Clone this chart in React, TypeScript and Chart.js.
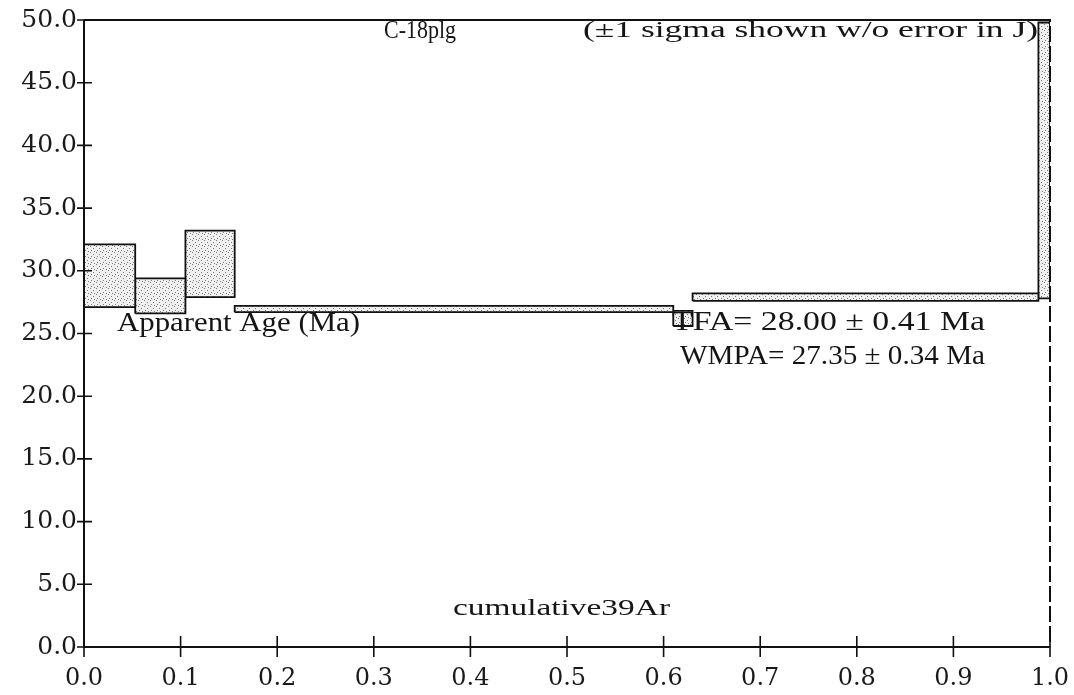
import React, { useEffect, useRef } from "react";
import { Chart, registerables } from "chart.js";

Chart.register(...registerables);

// cumulative 39Ar fraction at the start / end of each heating step
const cumStart = [0.0, 0.053, 0.105, 0.156, 0.61, 0.63, 0.988];
const cumEnd = [0.053, 0.105, 0.156, 0.61, 0.63, 0.988, 1.0];
// apparent age (Ma), +1 sigma and -1 sigma bounds
const ageHigh = [32.1, 29.4, 33.2, 27.2, 26.8, 28.2, 49.8];
const ageLow = [27.1, 26.6, 27.9, 26.7, 25.6, 27.6, 27.8];

const xTickValues = [0, 0.1, 0.2, 0.3, 0.4, 0.5, 0.6, 0.7, 0.8, 0.9, 1.0];
const yTickValues = [0, 5, 10, 15, 20, 25, 30, 35, 40, 45, 50];

const sampleName = "C-18plg";
const sigmaNote = "(±1 sigma shown w/o error in J)";
const yTitle = "Apparent Age (Ma)";
const xTitle = "cumulative39Ar";
const tfaText = "TFA= 28.00 ± 0.41 Ma";
const wmpaText = "WMPA= 27.35 ± 0.34 Ma";

function makePattern(): CanvasPattern | string {
  const c = document.createElement("canvas");
  c.width = 6;
  c.height = 6;
  const g = c.getContext("2d");
  if (!g) return "#ddd";
  g.fillStyle = "#f0f0f0";
  g.fillRect(0, 0, 6, 6);
  g.fillStyle = "#7a7a7a";
  g.fillRect(0, 0, 1, 1);
  g.fillRect(3, 2, 1, 1);
  g.fillRect(1, 4, 1, 1);
  g.fillRect(4, 5, 1, 1);
  const p = g.createPattern(c, "repeat");
  return p || "#ddd";
}

function drawFitted(
  ctx: CanvasRenderingContext2D,
  text: string,
  x: number,
  y: number,
  width: number,
  size: number
) {
  ctx.save();
  ctx.font = size + "px 'Liberation Serif', 'Times New Roman', serif";
  ctx.textBaseline = "middle";
  ctx.textAlign = "left";
  const w = ctx.measureText(text).width;
  const sx = width / w;
  ctx.translate(x, y);
  ctx.scale(sx, 1);
  ctx.fillStyle = "#151515";
  ctx.fillText(text, 0, 0);
  ctx.restore();
}

const framePlugin = {
  id: "framePlugin",
  afterDatasetsDraw(chart: any) {
    const ctx: CanvasRenderingContext2D = chart.ctx;
    const { left, right, top, bottom } = chart.chartArea;
    const xs = chart.scales.x;
    const ys = chart.scales.y;
    ctx.save();
    ctx.strokeStyle = "#111";
    ctx.lineWidth = 2;
    ctx.beginPath();
    ctx.moveTo(left, top);
    ctx.lineTo(left, bottom);
    ctx.lineTo(right, bottom);
    ctx.moveTo(left, top);
    ctx.lineTo(right - 14, top);
    ctx.stroke();
    ctx.setLineDash([16, 4]);
    ctx.beginPath();
    ctx.moveTo(right - 14, top);
    ctx.lineTo(right, top);
    ctx.lineTo(right, bottom);
    ctx.stroke();
    ctx.setLineDash([]);
    ctx.lineWidth = 1.6;
    ctx.beginPath();
    yTickValues.forEach((v) => {
      const y = ys.getPixelForValue(v);
      ctx.moveTo(left - 7, y);
      ctx.lineTo(left + 8, y);
    });
    xTickValues.forEach((v) => {
      const x = xs.getPixelForValue(v);
      ctx.moveTo(x, bottom - 11);
      ctx.lineTo(x, bottom + 10);
    });
    ctx.stroke();
    ctx.restore();

    drawFitted(ctx, sampleName, 384, 31, 72, 26);
    drawFitted(ctx, sigmaNote, 583, 31, 455, 24);
    drawFitted(ctx, yTitle, 117, 324, 243, 28);
    drawFitted(ctx, tfaText, 672, 323, 313, 28);
    drawFitted(ctx, wmpaText, 680, 357, 305, 28);
    drawFitted(ctx, xTitle, 453, 609, 217, 24);
  },
};

export default function App() {
  const ref = useRef<HTMLCanvasElement | null>(null);
  useEffect(() => {
    document.body.style.margin = "0";
    const canvas = ref.current;
    if (!canvas) return;
    const pattern = makePattern();
    const datasets = cumStart.map((s, i) => ({
      label: "step " + (i + 1),
      data: [
        { x: s, y: ageLow[i] },
        { x: s, y: ageHigh[i] },
        { x: cumEnd[i], y: ageHigh[i] },
        { x: cumEnd[i], y: ageLow[i] },
        { x: s, y: ageLow[i] },
      ],
      showLine: true,
      fill: "shape",
      backgroundColor: pattern,
      borderColor: "#111",
      borderWidth: 1.8,
      pointRadius: 0,
      tension: 0,
    }));
    const chart = new Chart(canvas, {
      type: "scatter",
      data: { datasets: datasets as any },
      options: {
        animation: false,
        responsive: false,
        layout: { padding: { top: 20, right: 24, left: 0, bottom: 0 } },
        plugins: {
          legend: { display: false },
          tooltip: { enabled: false },
          title: { display: false },
        },
        scales: {
          x: {
            type: "linear",
            min: 0,
            max: 1,
            grid: { display: false, drawTicks: false },
            border: { display: false },
            afterFit: (s: any) => {
              s.height = 48;
              s.paddingLeft = 0;
              s.paddingRight = 0;
            },
            afterBuildTicks: (s: any) => {
              s.ticks = xTickValues.map((v) => ({ value: v }));
            },
            ticks: {
              padding: 17,
              color: "#1a1a1a",
              font: { family: "'DejaVu Serif', serif", size: 24 },
              maxRotation: 0,
              autoSkip: false,
              callback: (v: any) => Number(v).toFixed(1),
            },
          },
          y: {
            type: "linear",
            min: 0,
            max: 50,
            grid: { display: false, drawTicks: false },
            border: { display: false },
            afterFit: (s: any) => {
              s.width = 84;
              s.paddingTop = 0;
              s.paddingBottom = 0;
            },
            afterBuildTicks: (s: any) => {
              s.ticks = yTickValues.map((v) => ({ value: v }));
            },
            ticks: {
              padding: 7,
              color: "#1a1a1a",
              font: { family: "'DejaVu Serif', serif", size: 25 },
              autoSkip: false,
              callback: (v: any) => Number(v).toFixed(1),
            },
          },
        },
      },
      plugins: [framePlugin],
    });
    return () => chart.destroy();
  }, []);
  return (
    <div style={{ width: 1074, height: 695, background: "#fff" }}>
      <canvas ref={ref} width={1074} height={695} style={{ display: "block" }} />
    </div>
  );
}
